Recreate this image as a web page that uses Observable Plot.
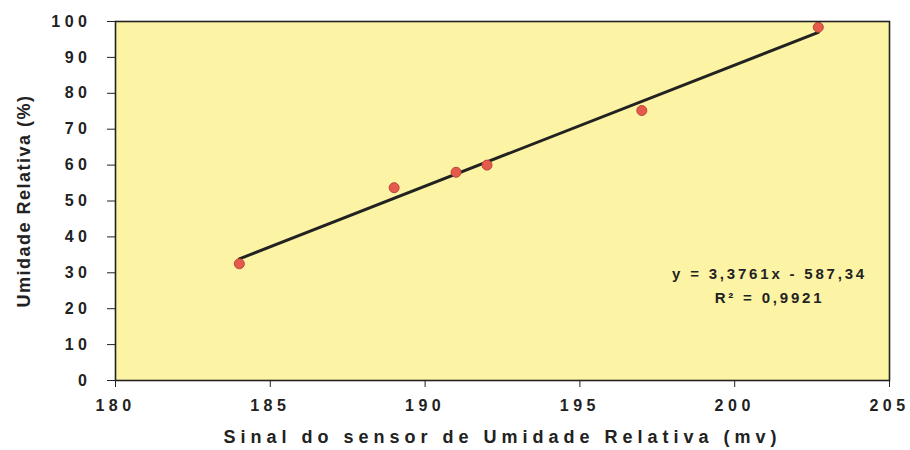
<!DOCTYPE html>
<html>
<head>
<meta charset="utf-8">
<script src="https://cdn.jsdelivr.net/npm/d3@7"></script>
<script src="https://cdn.jsdelivr.net/npm/@observablehq/plot@0.6"></script>
<style>
  body { margin: 0; background: #fff; }
  #chart svg { font-family: "Liberation Sans", Arial, sans-serif; font-weight: bold; }
  g[aria-label="x-axis tick label"] text,
  g[aria-label="y-axis tick label"] text { letter-spacing: 4.5px; }
  g[aria-label="x-axis label"] text { letter-spacing: 5px; font-size: 18px; }
  g[aria-label="y-axis label"] text { font-size: 18px; letter-spacing: 1.5px; }
</style>
</head>
<body>
<div id="chart"></div>
<script>
// Calibration readings: sensor signal (mV) vs. relative humidity (%)
const sinal = [184, 189, 191, 192, 197, 202.7];
const umidade = [32.5, 53.7, 58, 60, 75.2, 98.4];

// Linear fit reported on the chart
const slope = 3.3761;
const intercept = -587.34;
const equationText = "y = 3,3761x - 587,34";
const r2Text = "R\u00B2 = 0,9921";

const xTicks = [180, 185, 190, 195, 200, 205];
const yTicks = [0, 10, 20, 30, 40, 50, 60, 70, 80, 90, 100];

const points = sinal.map((x, i) => ({x, y: umidade[i]}));
const trend = d3.extent(sinal).map(x => ({x, y: slope * x + intercept}));

const chart = Plot.plot({
  width: 910,
  height: 450,
  marginLeft: 115,
  marginRight: 21,
  marginTop: 21,
  marginBottom: 70,
  style: {background: "transparent", color: "#222", fontSize: "16px"},
  x: {domain: [180, 205]},
  y: {domain: [0, 100]},
  marks: [
    Plot.frame({fill: "#fcf4a4", stroke: null}),
    Plot.axisX({
      ticks: xTicks, tickSize: 7, tickPadding: 12, fontSize: 16,
      label: "Sinal do sensor de Umidade Relativa (mv)",
      labelAnchor: "center", labelOffset: 62, labelArrow: "none"
    }),
    Plot.axisY({
      ticks: yTicks, tickSize: 8, tickPadding: 16, fontSize: 16,
      label: "Umidade Relativa (%)",
      labelAnchor: "center", labelOffset: 98, labelArrow: "none"
    }),
    Plot.line(trend, {x: "x", y: "y", stroke: "#222", strokeWidth: 3}),
    Plot.dot(points, {x: "x", y: "y", r: 5, fill: "#e65a4c", stroke: "#b8463c", strokeWidth: 1}),
    // Fit equation and R², centred in the lower-right part of the frame
    Plot.text([equationText], {
      text: d => d, frameAnchor: "bottom-right", textAnchor: "middle",
      dx: -120, dy: -102
    }),
    Plot.text([r2Text], {
      text: d => d, frameAnchor: "bottom-right", textAnchor: "middle",
      dx: -120, dy: -78
    }),
    Plot.frame({stroke: "#222", strokeWidth: 1.6})
  ]
});
document.getElementById("chart").append(chart);

// Size and spread the letters of the equation labels
d3.select(chart).selectAll("text")
  .filter(function () { return this.textContent === equationText || this.textContent === r2Text; })
  .style("font-size", "15px")
  .style("letter-spacing", "2.8px");
</script>
</body>
</html>
